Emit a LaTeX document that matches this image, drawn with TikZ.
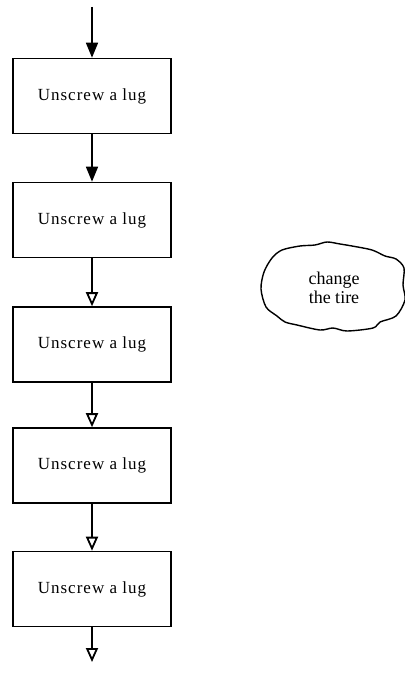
\documentclass[tikz,border=0pt]{standalone}
\usepackage{fontspec}
\setmainfont{Liberation Serif}
\newfontfamily\boxfont[LetterSpace=6]{Liberation Serif}
\usetikzlibrary{arrows.meta}
\begin{document}
\begin{tikzpicture}[x=0.5pt,y=-0.5pt,
  stepbox/.style={draw, line width=0.8pt, minimum width=79pt, minimum height=37.5pt, inner sep=0pt,
    font=\boxfont\fontsize{8.5}{10}\selectfont},
  fillarrow/.style={line width=0.8pt, -{Triangle[length=7.5pt,width=6pt]}},
  openarrow/.style={line width=0.8pt, -{Triangle[open,length=7pt,width=6pt,line width=0.9pt]}}]
\useasboundingbox (0,0) rectangle (405,674);
\coordinate (top) at (92,7);
\node[stepbox] (b1) at (92,96) {Unscrew a lug};
\node[stepbox] (b2) at (92,220) {Unscrew a lug};
\node[stepbox] (b3) at (92,344.5) {Unscrew a lug};
\node[stepbox] (b4) at (92,465.5) {Unscrew a lug};
\node[stepbox] (b5) at (92,589) {Unscrew a lug};
\coordinate (bot) at (92,662);
\draw[fillarrow] (top) -- (b1.north);
\draw[fillarrow] (b1.south) -- (b2.north);
\draw[openarrow] (b2.south) -- (b3.north);
\draw[openarrow] (b3.south) -- (b4.north);
\draw[openarrow] (b4.south) -- (b5.north);
\draw[openarrow] (b5.south) -- (bot);
\draw[line width=0.7pt] plot[smooth cycle, tension=0.5] coordinates {
  (261,289) (264,272) (272,258) (282,250) (300,246) (315,245) (327,242) (340,244) (352,246) (372,250)
  (385,256) (396,259) (404,268) (403,285) (405,300) (396,316) (380,322) (373,328) (347,331)
  (333,328) (320,330) (297,325) (285,322) (277,316) (266,307)};
\node[font=\fontsize{9}{9.5}\selectfont, align=center] (cloud) at (334,288) {change\\the tire};
\end{tikzpicture}
\end{document}
